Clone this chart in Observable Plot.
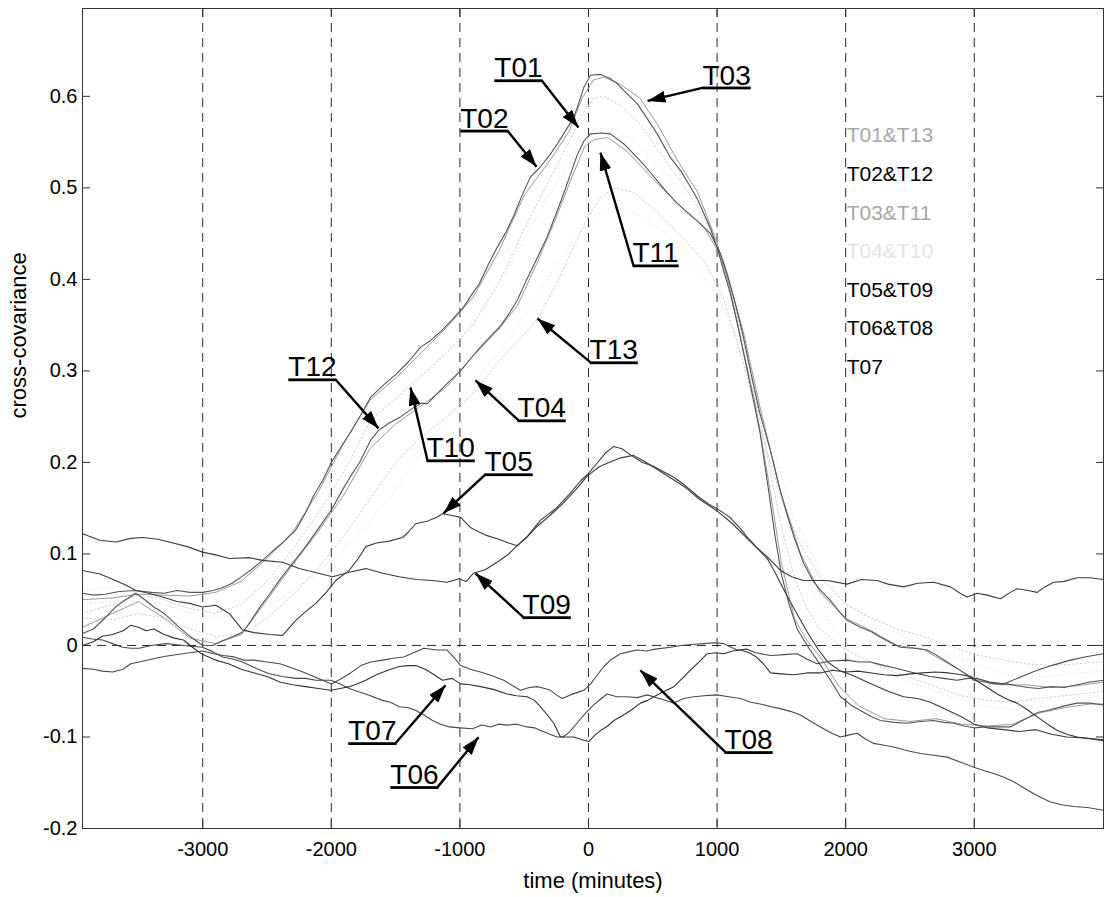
<!DOCTYPE html>
<html>
<head>
<meta charset="utf-8">
<script src="https://cdn.jsdelivr.net/npm/d3@7"></script>
<script src="https://cdn.jsdelivr.net/npm/@observablehq/plot@0.6"></script>
<style>
  body { margin: 0; background: #fff; }
  #chart svg { display: block; }
</style>
</head>
<body>
<div id="chart"></div>
<script>
// Cross-covariance of each sensor series against the reference, by lag (minutes).
// Each series is a list of [lag, covariance] pairs.
const T01 = [[-3935,0.035],[-3700,0.045],[-3500,0.055],[-3300,0.05],[-3100,0.04],[-2900,0.035],[-2700,0.045],[-2500,0.07],[-2300,0.105],[-2100,0.145],[-1900,0.19],[-1700,0.245],[-1500,0.27],[-1300,0.295],[-1100,0.32],[-900,0.35],[-700,0.395],[-500,0.455],[-300,0.51],[-150,0.55],[-50,0.58],[40,0.598],[120,0.6],[250,0.59],[400,0.57],[550,0.54],[700,0.51],[850,0.48],[1000,0.44],[1100,0.392],[1200,0.335],[1300,0.27],[1400,0.2],[1500,0.13],[1600,0.075],[1700,0.04],[1800,0.018],[1950,0.0],[2100,-0.012],[2300,-0.025],[2500,-0.035],[2700,-0.045],[2900,-0.055],[3100,-0.06],[3300,-0.062],[3500,-0.058],[3700,-0.055],[3900,-0.052],[4005,-0.05]];

const T02 = [[-3935,0.057],[-3850,0.055],[-3760,0.056],[-3650,0.059],[-3520,0.06],[-3400,0.058],[-3300,0.057],[-3200,0.06],[-3100,0.058],[-3000,0.058],[-2920,0.06],[-2850,0.063],[-2770,0.068],[-2700,0.075],[-2620,0.083],[-2535,0.093],[-2450,0.104],[-2380,0.112],[-2278,0.126],[-2200,0.145],[-2140,0.163],[-2068,0.18],[-2000,0.2],[-1920,0.218],[-1850,0.233],[-1770,0.252],[-1695,0.271],[-1600,0.284],[-1500,0.296],[-1400,0.31],[-1306,0.326],[-1230,0.333],[-1150,0.343],[-1060,0.356],[-970,0.37],[-900,0.385],[-850,0.395],[-780,0.416],[-710,0.435],[-640,0.452],[-580,0.47],[-510,0.494],[-451,0.512],[-380,0.522],[-300,0.536],[-243,0.548],[-180,0.562],[-114,0.577],[-70,0.595],[-36,0.61],[16,0.623],[93,0.624],[160,0.62],[223,0.614],[300,0.603],[379,0.592],[450,0.577],[534,0.559],[638,0.533],[720,0.518],[793,0.501],[850,0.487],[897,0.472],[950,0.455],[1000,0.435],[1050,0.41],[1104,0.384],[1160,0.35],[1220,0.31],[1280,0.27],[1337,0.23],[1400,0.17],[1450,0.12],[1500,0.078],[1560,0.045],[1623,0.018],[1700,0.0],[1778,-0.016],[1882,-0.038],[1960,-0.056],[2040,-0.065],[2115,-0.071],[2200,-0.078],[2271,-0.082],[2380,-0.084],[2478,-0.085],[2580,-0.083],[2685,-0.082],[2760,-0.084],[2841,-0.085],[2920,-0.088],[3000,-0.09],[3080,-0.089],[3180,-0.089],[3281,-0.089],[3400,-0.08],[3500,-0.073],[3567,-0.071],[3700,-0.066],[3800,-0.063],[3904,-0.063],[4005,-0.065]];

const T03 = [[-3935,0.05],[-3700,0.052],[-3500,0.056],[-3300,0.055],[-3100,0.054],[-2900,0.058],[-2700,0.07],[-2500,0.095],[-2300,0.124],[-2100,0.168],[-1900,0.222],[-1700,0.268],[-1500,0.292],[-1300,0.32],[-1100,0.348],[-900,0.38],[-700,0.43],[-500,0.492],[-300,0.53],[-150,0.562],[-50,0.598],[40,0.618],[120,0.621],[250,0.613],[400,0.598],[550,0.566],[700,0.528],[850,0.495],[1000,0.44],[1100,0.39],[1200,0.325],[1300,0.262],[1400,0.18],[1500,0.09],[1600,0.03],[1700,0.005],[1800,-0.012],[1950,-0.045],[2100,-0.066],[2300,-0.08],[2500,-0.083],[2700,-0.08],[2900,-0.086],[3100,-0.088],[3300,-0.086],[3500,-0.074],[3700,-0.068],[3900,-0.064],[4005,-0.064]];

const T04 = [[-3935,0.045],[-3600,0.05],[-3300,0.045],[-3000,0.03],[-2700,0.03],[-2400,0.05],[-2100,0.08],[-1800,0.12],[-1500,0.17],[-1200,0.23],[-1000,0.265],[-879,0.29],[-700,0.32],[-500,0.36],[-300,0.405],[-100,0.445],[50,0.47],[200,0.48],[400,0.47],[600,0.45],[800,0.42],[1000,0.385],[1200,0.32],[1400,0.23],[1600,0.14],[1800,0.08],[2000,0.045],[2300,0.02],[2600,0.0],[2900,-0.015],[3200,-0.03],[3500,-0.035],[3800,-0.03],[4005,-0.028]];

const T05 = [[-3935,0.082],[-3800,0.078],[-3678,0.071],[-3600,0.066],[-3520,0.06],[-3420,0.057],[-3313,0.053],[-3200,0.048],[-3100,0.046],[-3002,0.042],[-2898,0.044],[-2794,0.035],[-2691,0.017],[-2600,0.014],[-2480,0.012],[-2379,0.011],[-2276,0.0275],[-2200,0.037],[-2120,0.046],[-2040,0.058],[-1965,0.071],[-1861,0.082],[-1790,0.095],[-1732,0.108],[-1650,0.112],[-1550,0.114],[-1446,0.118],[-1400,0.124],[-1343,0.133],[-1250,0.136],[-1180,0.14],[-1135,0.144],[-1060,0.142],[-995,0.14],[-918,0.129],[-850,0.124],[-788,0.12],[-700,0.116],[-620,0.112],[-555,0.109],[-480,0.118],[-400,0.13],[-300,0.142],[-200,0.155],[-100,0.17],[-10,0.185],[80,0.195],[145,0.199],[250,0.205],[350,0.2077],[450,0.2],[560,0.19],[661,0.181],[760,0.172],[860,0.16],[1000,0.147],[1120,0.133],[1234,0.117],[1320,0.105],[1390,0.095],[1450,0.08],[1500,0.066],[1560,0.05],[1620,0.035],[1700,0.015],[1780,-0.003],[1860,-0.018],[1960,-0.028],[2060,-0.033],[2200,-0.042],[2330,-0.05],[2450,-0.056],[2560,-0.058],[2660,-0.062],[2780,-0.07],[2900,-0.078],[3000,-0.086],[3100,-0.09],[3230,-0.092],[3350,-0.094],[3480,-0.092],[3600,-0.097],[3720,-0.1],[3850,-0.101],[4005,-0.103]];

const T06 = [[-3935,0.009],[-3860,0.007],[-3779,0.006],[-3700,0.002],[-3624,-0.002],[-3560,-0.003],[-3494,-0.003],[-3400,0.0],[-3287,0.002],[-3150,0.0],[-3002,-0.002],[-2920,-0.007],[-2846,-0.0126],[-2760,-0.015],[-2691,-0.018],[-2587,-0.025],[-2483,-0.031],[-2380,-0.034],[-2276,-0.036],[-2200,-0.036],[-2120,-0.038],[-2004,-0.038],[-1930,-0.042],[-1861,-0.047],[-1800,-0.05],[-1732,-0.053],[-1602,-0.06],[-1540,-0.062],[-1472,-0.067],[-1400,-0.068],[-1343,-0.071],[-1280,-0.076],[-1213,-0.082],[-1150,-0.086],[-1083,-0.089],[-1000,-0.09],[-902,-0.091],[-830,-0.087],[-760,-0.089],[-700,-0.086],[-632,-0.087],[-560,-0.086],[-477,-0.089],[-420,-0.09],[-373,-0.093],[-300,-0.097],[-243,-0.1],[-200,-0.1],[-150,-0.095],[-90,-0.085],[-30,-0.075],[40,-0.065],[100,-0.058],[145,-0.053],[220,-0.056],[301,-0.056],[380,-0.057],[457,-0.054],[550,-0.058],[620,-0.061],[664,-0.063],[740,-0.058],[819,-0.056],[900,-0.055],[1000,-0.054],[1090,-0.056],[1182,-0.058],[1260,-0.062],[1337,-0.064],[1420,-0.067],[1493,-0.069],[1570,-0.072],[1649,-0.076],[1730,-0.083],[1804,-0.089],[1880,-0.095],[1960,-0.1],[2020,-0.098],[2089,-0.096],[2150,-0.102],[2219,-0.107],[2300,-0.109],[2374,-0.111],[2480,-0.115],[2582,-0.118],[2685,-0.12],[2789,-0.122],[2900,-0.128],[2996,-0.133],[3080,-0.137],[3152,-0.14],[3230,-0.144],[3307,-0.149],[3390,-0.156],[3463,-0.162],[3530,-0.167],[3593,-0.171],[3680,-0.174],[3774,-0.176],[3880,-0.177],[4005,-0.18]];

const T07 = [[-3935,0.0],[-3850,0.004],[-3780,0.01],[-3700,0.012],[-3620,0.016],[-3560,0.022],[-3500,0.02],[-3440,0.016],[-3380,0.018],[-3300,0.012],[-3220,0.008],[-3150,0.006],[-3080,-0.002],[-3000,-0.01],[-2900,-0.016],[-2800,-0.02],[-2700,-0.026],[-2600,-0.03],[-2500,-0.034],[-2400,-0.04],[-2300,-0.043],[-2200,-0.045],[-2100,-0.047],[-2004,-0.049],[-1930,-0.047],[-1861,-0.045],[-1800,-0.042],[-1732,-0.038],[-1650,-0.032],[-1560,-0.027],[-1472,-0.023],[-1400,-0.022],[-1343,-0.022],[-1270,-0.026],[-1200,-0.032],[-1135,-0.038],[-1060,-0.036],[-995,-0.042],[-920,-0.043],[-840,-0.045],[-740,-0.048],[-632,-0.053],[-560,-0.055],[-477,-0.056],[-420,-0.06],[-373,-0.067],[-320,-0.076],[-270,-0.085],[-218,-0.1],[-160,-0.1],[-114,-0.1],[-50,-0.103],[2,-0.105],[50,-0.098],[93,-0.093],[150,-0.088],[197,-0.082],[260,-0.077],[327,-0.071],[404,-0.063],[460,-0.06],[508,-0.056],[590,-0.05],[664,-0.045],[730,-0.036],[793,-0.027],[860,-0.018],[923,-0.009],[990,-0.008],[1052,-0.009],[1120,-0.006],[1182,-0.005],[1250,-0.008],[1300,-0.012],[1360,-0.02],[1415,-0.03],[1500,-0.031],[1600,-0.032],[1700,-0.03],[1800,-0.03],[1900,-0.027],[2000,-0.029],[2100,-0.028],[2200,-0.03],[2300,-0.032],[2400,-0.033],[2500,-0.031],[2600,-0.03],[2700,-0.029],[2800,-0.03],[2900,-0.032],[2970,-0.034],[3080,-0.044],[3178,-0.053],[3260,-0.059],[3333,-0.063],[3410,-0.07],[3489,-0.078],[3570,-0.086],[3645,-0.093],[3720,-0.097],[3800,-0.1],[3900,-0.102],[4005,-0.104]];

const T08 = [[-3935,-0.025],[-3850,-0.026],[-3780,-0.028],[-3700,-0.029],[-3620,-0.026],[-3560,-0.02],[-3494,-0.018],[-3400,-0.015],[-3300,-0.012],[-3157,-0.009],[-3002,-0.006],[-2913,-0.009],[-2840,-0.011],[-2757,-0.0125],[-2680,-0.016],[-2600,-0.016],[-2500,-0.018],[-2400,-0.02],[-2300,-0.025],[-2200,-0.03],[-2100,-0.036],[-2000,-0.042],[-1930,-0.037],[-1850,-0.03],[-1770,-0.022],[-1695,-0.018],[-1600,-0.016],[-1520,-0.014],[-1436,-0.0126],[-1360,-0.008],[-1281,-0.003],[-1180,-0.005],[-1099,-0.005],[-1040,-0.014],[-995,-0.022],[-920,-0.026],[-840,-0.029],[-750,-0.033],[-659,-0.038],[-590,-0.044],[-529,-0.049],[-460,-0.046],[-399,-0.045],[-340,-0.047],[-295,-0.049],[-250,-0.054],[-205,-0.058],[-140,-0.054],[-80,-0.051],[-36,-0.049],[16,-0.042],[70,-0.032],[119,-0.023],[180,-0.015],[249,-0.009],[310,-0.007],[379,-0.005],[450,-0.006],[520,-0.004],[638,-0.002],[720,0.0],[800,0.001],[897,0.002],[980,0.003],[1052,0.002],[1156,-0.005],[1230,-0.004],[1300,-0.008],[1415,-0.011],[1520,-0.01],[1623,-0.009],[1700,-0.015],[1778,-0.02],[1880,-0.017],[2011,-0.016],[2100,-0.018],[2193,-0.018],[2300,-0.022],[2370,-0.024],[2452,-0.027],[2560,-0.031],[2659,-0.034],[2760,-0.036],[2866,-0.038],[2950,-0.036],[3022,-0.036],[3120,-0.04],[3230,-0.042],[3350,-0.035],[3489,-0.027],[3600,-0.022],[3748,-0.016],[3880,-0.012],[4005,-0.009]];

const T09 = [[-3935,0.122],[-3800,0.115],[-3676,0.113],[-3560,0.117],[-3468,0.118],[-3350,0.116],[-3261,0.113],[-3120,0.108],[-3002,0.102],[-2900,0.099],[-2794,0.095],[-2639,0.096],[-2535,0.093],[-2379,0.091],[-2250,0.084],[-2100,0.079],[-1991,0.075],[-1861,0.08],[-1732,0.084],[-1600,0.079],[-1473,0.075],[-1340,0.072],[-1213,0.071],[-1100,0.069],[-1006,0.073],[-950,0.07],[-894,0.079],[-800,0.083],[-700,0.092],[-620,0.1],[-555,0.109],[-470,0.12],[-373,0.137],[-250,0.15],[-150,0.165],[-60,0.18],[0,0.188],[60,0.198],[130,0.21],[197,0.2175],[260,0.215],[330,0.208],[420,0.2],[500,0.196],[580,0.19],[661,0.184],[750,0.175],[850,0.163],[930,0.155],[1000,0.1495],[1100,0.14],[1180,0.128],[1234,0.1185],[1310,0.107],[1390,0.0967],[1493,0.082],[1580,0.075],[1672,0.071],[1760,0.071],[1856,0.071],[2011,0.067],[2120,0.072],[2244,0.071],[2330,0.067],[2450,0.064],[2560,0.068],[2683,0.069],[2815,0.064],[2890,0.057],[2944,0.053],[3022,0.057],[3100,0.055],[3204,0.051],[3280,0.058],[3333,0.062],[3420,0.06],[3489,0.058],[3550,0.064],[3618,0.069],[3700,0.07],[3800,0.074],[3900,0.074],[4005,0.072]];

const T10 = [[-3935,0.06],[-3600,0.065],[-3300,0.063],[-3000,0.06],[-2700,0.072],[-2400,0.105],[-2100,0.16],[-1800,0.225],[-1600,0.258],[-1384,0.282],[-1200,0.305],[-1000,0.335],[-800,0.375],[-600,0.42],[-400,0.47],[-200,0.515],[-50,0.55],[50,0.565],[200,0.565],[400,0.545],[600,0.515],[800,0.485],[1000,0.44],[1150,0.38],[1300,0.29],[1450,0.19],[1600,0.11],[1750,0.055],[1900,0.02],[2100,-0.01],[2400,-0.035],[2700,-0.05],[3000,-0.065],[3300,-0.07],[3600,-0.066],[3900,-0.06],[4005,-0.058]];

const T11 = [[-3935,0.02],[-3700,0.035],[-3500,0.048],[-3300,0.03],[-3100,0.008],[-2900,0.002],[-2700,0.012],[-2500,0.05],[-2300,0.088],[-2100,0.125],[-1900,0.165],[-1700,0.215],[-1500,0.242],[-1300,0.262],[-1100,0.283],[-900,0.316],[-700,0.345],[-550,0.372],[-400,0.418],[-250,0.468],[-120,0.515],[-30,0.545],[50,0.553],[150,0.555],[300,0.54],[500,0.51],[700,0.482],[900,0.457],[1050,0.42],[1200,0.345],[1350,0.25],[1500,0.165],[1650,0.1],[1800,0.058],[2000,0.03],[2200,0.016],[2400,0.0],[2600,-0.004],[2800,-0.02],[3000,-0.036],[3200,-0.043],[3400,-0.043],[3600,-0.046],[3800,-0.044],[4005,-0.04]];

const T12 = [[-3935,0.013],[-3850,0.018],[-3760,0.03],[-3678,0.042],[-3600,0.05],[-3520,0.057],[-3450,0.05],[-3380,0.042],[-3300,0.035],[-3200,0.022],[-3100,0.01],[-3000,0.0],[-2920,0.0],[-2850,0.005],[-2760,0.01],[-2685,0.015],[-2620,0.028],[-2550,0.043],[-2480,0.056],[-2400,0.072],[-2300,0.09],[-2200,0.108],[-2100,0.128],[-2000,0.148],[-1913,0.17],[-1850,0.185],[-1780,0.2],[-1695,0.224],[-1633,0.235],[-1550,0.243],[-1460,0.25],[-1380,0.258],[-1300,0.265],[-1254,0.264],[-1200,0.272],[-1100,0.286],[-995,0.3],[-920,0.313],[-840,0.326],[-760,0.338],[-680,0.35],[-620,0.362],[-555,0.377],[-480,0.4],[-400,0.423],[-320,0.447],[-243,0.475],[-190,0.495],[-140,0.515],[-90,0.535],[-36,0.551],[16,0.559],[100,0.56],[171,0.559],[275,0.548],[379,0.533],[450,0.522],[534,0.508],[610,0.495],[690,0.483],[770,0.473],[845,0.464],[949,0.45],[1026,0.428],[1080,0.405],[1130,0.38],[1200,0.34],[1260,0.3],[1330,0.255],[1415,0.213],[1480,0.175],[1540,0.145],[1600,0.118],[1672,0.09],[1740,0.072],[1800,0.061],[1882,0.049],[1950,0.037],[2011,0.0275],[2115,0.02],[2200,0.015],[2271,0.009],[2350,0.003],[2426,-0.002],[2530,-0.003],[2633,-0.005],[2700,-0.01],[2789,-0.018],[2900,-0.028],[2996,-0.038],[3080,-0.04],[3152,-0.042],[3256,-0.042],[3330,-0.044],[3420,-0.046],[3500,-0.047],[3600,-0.045],[3700,-0.046],[3800,-0.043],[3900,-0.04],[4005,-0.038]];

const T13 = [[-3935,0.03],[-3700,0.028],[-3500,0.035],[-3300,0.03],[-3100,0.018],[-2900,0.01],[-2700,0.012],[-2500,0.03],[-2300,0.055],[-2100,0.085],[-1900,0.12],[-1700,0.16],[-1500,0.2],[-1300,0.228],[-1100,0.25],[-900,0.275],[-700,0.31],[-500,0.34],[-397,0.357],[-250,0.395],[-100,0.44],[0,0.47],[100,0.49],[200,0.5],[350,0.495],[500,0.478],[700,0.45],[900,0.42],[1050,0.38],[1200,0.31],[1350,0.23],[1500,0.16],[1650,0.11],[1800,0.075],[2000,0.045],[2200,0.03],[2400,0.018],[2600,0.01],[2800,0.0],[3000,-0.01],[3200,-0.015],[3400,-0.02],[3600,-0.022],[3800,-0.02],[4005,-0.018]];

// Axis ticks
const xTicks = [-3000, -2000, -1000, 0, 1000, 2000, 3000];
const xTickLabels = ["-3000", "-2000", "-1000", "0", "1000", "2000", "3000"];
const yTicks = [-0.2, -0.1, 0, 0.1, 0.2, 0.3, 0.4, 0.5, 0.6];
const yTickLabels = ["-0.2", "-0.1", "0", "0.1", "0.2", "0.3", "0.4", "0.5", "0.6"];

// Legend entries (sensor pairs share a colour)
const legendLabels = ["T01&T13", "T02&T12", "T03&T11", "T04&T10", "T05&T09", "T06&T08", "T07"];

// Callout labels: label, tail of the arrow (at the underline), arrow tip
const annLabel = ["T01", "T02", "T03", "T11", "T13", "T04", "T10", "T05", "T12", "T09", "T07", "T06", "T08"];
const annTailX = [-365, -630, 894, 350, 16, -544, -1252, -801, -1967, -505, -1501, -1174, 1065];
const annTailY = [0.6175, 0.5625, 0.6096, 0.4152, 0.3093, 0.2459, 0.2022, 0.187, 0.2907, 0.0308, -0.1068, -0.1548, -0.1166];
const annTipX = [-78, -404, 459, 93, -397, -879, -1384, -1128, -1633, -879, -1112, -855, 404];
const annTipY = [0.566, 0.523, 0.595, 0.5385, 0.3573, 0.2896, 0.2819, 0.1444, 0.2372, 0.0788, -0.0434, -0.1002, -0.0271];
const annSide = ["end", "end", "start", "start", "start", "start", "start", "start", "end", "start", "end", "end", "start"];

// ---- styles ----
const pairStyle = {
  "T01&T13": {stroke: "#cfcfcf", dash: "1.5,2.5", width: 1, legend: "#a8a8a8"},
  "T02&T12": {stroke: "#555555", dash: null, width: 1.1, legend: "#000000"},
  "T03&T11": {stroke: "#9a9a9a", dash: null, width: 1, legend: "#a8a8a8"},
  "T04&T10": {stroke: "#e8e8e8", dash: "1,3", width: 1, legend: "#e4e4e4"},
  "T05&T09": {stroke: "#3c3c3c", dash: null, width: 1.1, legend: "#000000"},
  "T06&T08": {stroke: "#4a4a4a", dash: null, width: 1.1, legend: "#000000"},
  "T07":     {stroke: "#333333", dash: null, width: 1.1, legend: "#000000"}
};
const seriesPair = [
  [T04, "T04&T10"], [T10, "T04&T10"],
  [T01, "T01&T13"], [T13, "T01&T13"],
  [T03, "T03&T11"], [T11, "T03&T11"],
  [T02, "T02&T12"], [T12, "T02&T12"],
  [T06, "T06&T08"], [T08, "T06&T08"],
  [T07, "T07"],
  [T05, "T05&T09"], [T09, "T05&T09"]
];

const seriesMarks = seriesPair.map(([pts, pair]) => {
  const s = pairStyle[pair];
  return Plot.line(pts, {
    x: d => d[0], y: d => d[1],
    stroke: s.stroke, strokeWidth: s.width,
    strokeDasharray: s.dash ?? undefined,
    curve: "linear"
  });
});

const annIdx = annLabel.map((_, i) => i);
const annFont = "'Liberation Sans Narrow', 'Arial Narrow', 'Liberation Sans', Arial, sans-serif";
const legendTopY = 0.5571, legendStepY = 0.04215;

const chart = Plot.plot({
  width: 1107,
  height: 897,
  marginLeft: 82,
  marginRight: 4,
  marginTop: 8,
  marginBottom: 69,
  x: {domain: [-3935, 4005]},
  y: {domain: [-0.2, 0.696]},
  style: {fontFamily: "'Liberation Sans', Arial, Helvetica, sans-serif", fontSize: "20px", color: "#000", background: "#fff", overflow: "visible"},
  marks: [
    Plot.ruleX(xTicks, {stroke: "#2a2a2a", strokeWidth: 1, strokeDasharray: "9,6"}),
    Plot.ruleY([0], {stroke: "#2a2a2a", strokeWidth: 1, strokeDasharray: "9,6"}),
    ...seriesMarks,
    Plot.frame({stroke: "#333", strokeWidth: 1}),
    Plot.axisY(yTicks, {anchor: "left", tickSize: -8, tickPadding: 13, tickFormat: (d, i) => yTickLabels[i], label: null, stroke: "#333"}),
    Plot.axisY(yTicks, {anchor: "right", tickSize: -8, tickFormat: () => "", label: null, stroke: "#333"}),
    Plot.axisX(xTicks, {anchor: "bottom", tickSize: -8, tickPadding: 21.5, tickFormat: (d, i) => xTickLabels[i], label: null, stroke: "#333"}),
    Plot.axisX(xTicks, {anchor: "top", tickSize: -8, tickFormat: () => "", label: null, stroke: "#333"}),
    Plot.text(["time (minutes)"], {frameAnchor: "bottom", dy: 52, fontSize: 22, lineAnchor: "middle"}),
    Plot.text(["cross-covariance"], {frameAnchor: "left", dx: -64, rotate: -90, fontSize: 22, lineAnchor: "middle"}),
    // legend
    Plot.text(legendLabels, {
      x: () => 2000, y: (d, i) => legendTopY - i * legendStepY,
      text: d => d, fill: d => pairStyle[d].legend,
      textAnchor: "start", lineAnchor: "middle", dx: 1, fontSize: 21
    }),
    // callout arrows
    Plot.link(annIdx, {
      x1: i => annTailX[i], y1: i => annTailY[i],
      x2: i => annTipX[i], y2: i => annTipY[i],
      stroke: "#000", strokeWidth: 2.4
    }),
    Plot.text(annIdx.filter(i => annSide[i] === "end"), {
      x: i => annTailX[i], y: i => annTailY[i], text: i => annLabel[i],
      textAnchor: "end", lineAnchor: "bottom", dy: -3, dx: 1, fontSize: 28, fontFamily: annFont, fill: "#000"
    }),
    Plot.text(annIdx.filter(i => annSide[i] === "start"), {
      x: i => annTailX[i], y: i => annTailY[i], text: i => annLabel[i],
      textAnchor: "start", lineAnchor: "bottom", dy: -3, dx: -1, fontSize: 28, fontFamily: annFont, fill: "#000"
    })
  ]
});

// filled arrowheads on the callout links, and underlined callout labels
const svg = d3.select(chart);
const defs = svg.insert("defs", ":first-child");
const mk = defs.append("marker")
  .attr("id", "callout-head")
  .attr("viewBox", "-18 -6 18 12")
  .attr("markerWidth", 18)
  .attr("markerHeight", 12)
  .attr("markerUnits", "userSpaceOnUse")
  .attr("refX", 0).attr("refY", 0)
  .attr("orient", "auto");
mk.append("path").attr("d", "M-18,-6L0,0L-18,6Z").attr("fill", "#000");
svg.selectAll('g[aria-label="link"] path').attr("marker-end", "url(#callout-head)");
svg.selectAll('g[font-size="28"] text').style("text-decoration", "underline");

document.getElementById("chart").appendChild(chart);
</script>
</body>
</html>
